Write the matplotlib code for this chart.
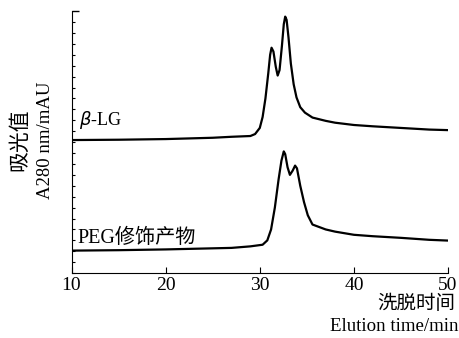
import matplotlib
matplotlib.use('Agg')
import matplotlib.pyplot as plt
import numpy as np

plt.rcParams['font.family'] = ['Liberation Serif', 'Noto Sans CJK SC']

# beta-LG elution profile (time in min, absorbance arbitrary units)
t_lg = [10, 15, 20, 25, 27, 29.0, 29.5, 30.0, 30.3, 30.6, 30.9, 31.1, 31.25, 31.45,
        31.7, 31.9, 32.1, 32.35, 32.55, 32.7, 32.85, 33.05, 33.3, 33.6, 33.9, 34.3,
        34.8, 35.6, 37, 38, 40, 42, 45, 48, 50]
a_lg = [12.19, 12.22, 12.28, 12.4, 12.49, 12.56, 12.74, 13.3, 14.3, 16.0, 18.3, 20.0,
        20.65, 20.3, 18.9, 18.1, 18.6, 20.8, 22.8, 23.5, 23.2, 21.6, 19.2, 17.3, 16.1,
        15.2, 14.7, 14.25, 13.95, 13.78, 13.57, 13.45, 13.3, 13.15, 13.1]

# PEG modified product
t_peg = [10, 15, 20, 25, 27, 29, 30.3, 30.8, 31.2, 31.6, 32.0, 32.3, 32.55, 32.7,
         32.95, 33.2, 33.5, 33.75, 33.95, 34.3, 34.7, 35.1, 35.6, 37, 38, 40, 42, 45,
         48, 50]
a_peg = [2.06, 2.1, 2.17, 2.27, 2.31, 2.45, 2.6, 3.0, 4.0, 6.0, 8.6, 10.3, 11.15, 10.9,
         9.7, 9.0, 9.4, 9.85, 9.6, 8.0, 6.5, 5.3, 4.45, 4.0, 3.8, 3.51, 3.38, 3.23,
         3.05, 2.98]

fig = plt.figure(figsize=(4.6, 3.38), dpi=100)
ax = fig.add_axes([0.1555, 0.192, 0.8185, 0.775])

ax.plot(t_lg, a_lg, color='black', lw=1.6, solid_joinstyle='round')
ax.plot(t_peg, a_peg, color='black', lw=1.6, solid_joinstyle='round')

ax.set_xlim(10, 50)
ax.set_ylim(0, 24)
ax.set_xticks([10, 20, 30, 40, 50])
ax.set_yticks([24])
ax.set_yticks(np.arange(0, 24, 1), minor=True)
ax.set_yticklabels([])
ax.tick_params(axis='x', direction='in', length=4, width=0.8, labelsize=14, pad=3)
ax.tick_params(axis='y', which='major', direction='in', length=5, width=1.0)
ax.tick_params(axis='y', which='minor', direction='in', length=2, width=0.8)
ax.spines['top'].set_visible(False)
ax.spines['right'].set_visible(False)

ax.text(10.8, 13.6, r'$\beta$-LG', fontsize=13)
ax.text(10.6, 2.8, 'PEG修饰产物', fontsize=14.5)

fig.text(0.99, 0.127, '洗脱时间', ha='right', va='top', fontsize=14)
fig.text(0.996, 0.035, 'Elution time/min', ha='right', va='center', fontsize=13.6)
fig.text(0.044, 0.586, '吸光值', rotation=90, ha='center', va='center', fontsize=15)
fig.text(0.098, 0.586, 'A280 nm/mAU', rotation=90, ha='center', va='center', fontsize=13.5)

fig.savefig('out.png', dpi=100)
